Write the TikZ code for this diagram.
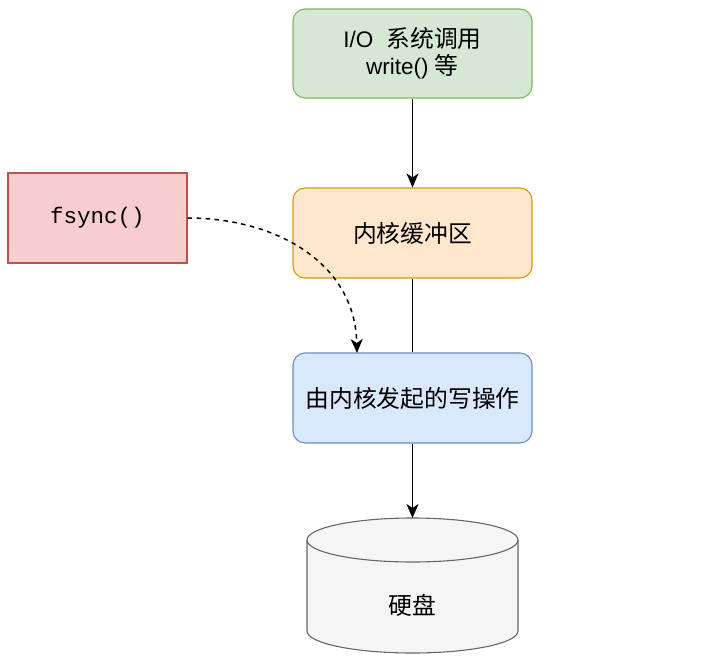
\documentclass[tikz,border=0pt]{standalone}
\usepackage{fontspec}
\setmainfont{Liberation Sans}
\newfontfamily\cjkf{Noto Sans CJK SC}
\newcommand\cjk{\cjkf\fontsize{23.8pt}{27pt}\selectfont}
\newfontfamily\monof{Liberation Mono}
\usetikzlibrary{arrows.meta}
\definecolor{gfill}{HTML}{D5E8D4}\definecolor{gline}{HTML}{82B366}
\definecolor{ofill}{HTML}{FFE6CC}\definecolor{oline}{HTML}{D79B00}
\definecolor{bfill}{HTML}{DAE8FC}\definecolor{bline}{HTML}{6C8EBF}
\definecolor{rfill}{HTML}{F8CECC}\definecolor{rline}{HTML}{B85450}
\definecolor{cfill}{HTML}{F5F5F5}\definecolor{cline}{HTML}{666666}
\begin{document}
\begin{tikzpicture}[x=1pt,y=-1pt,
  box/.style={draw, line width=1.1pt, rounded corners=12pt, minimum width=239pt, minimum height=89pt, align=center, inner sep=0pt,
    font=\fontsize{22.5pt}{27pt}\selectfont},
  sqbox/.style={draw, line width=1.1pt, minimum width=179pt, minimum height=90pt, inner sep=0pt},
  conn/.style={line width=1.5pt, -{Stealth[length=14pt,width=12pt,inset=4pt]}},
  plain/.style={line width=1.5pt}]
\useasboundingbox (0,0) rectangle (727,666);
\node[box, fill=gfill, draw=gline] (io) at (412.5,53.5) {I/O\hspace{13pt}{\cjk 系统调用}\\write() {\cjk 等}};
\node[box, fill=ofill, draw=oline, minimum height=90pt] (buf) at (412.5,233) {\cjk 内核缓冲区};
\node[box, fill=bfill, draw=bline, minimum height=90pt] (kw) at (412.5,398) {\cjk 由内核发起的写操作};
\node[sqbox, fill=rfill, draw=rline, font=\monof\fontsize{22.5pt}{27pt}\selectfont] (fs) at (97.5,218) {fsync()};
% cylinder
\path[fill=cfill] (307,540) -- (307,631) arc[start angle=180,end angle=360,x radius=105.5pt,y radius=22pt] -- (518,540) arc[start angle=0,end angle=180,x radius=105.5pt,y radius=22pt] -- cycle;
\draw[cline, line width=1.1pt] (307,540) -- (307,631) arc[start angle=180,end angle=360,x radius=105.5pt,y radius=22pt] -- (518,540);
\draw[cline, line width=1.1pt] (412.5,540) ellipse[x radius=105.5pt,y radius=22pt];
\node[font=\cjk] (hd) at (412.5,605) {硬盘};
\coordinate (hdtop) at (412.5,518);
\coordinate (fsend) at (357,353);
\draw[conn] (io.south) -- (buf.north);
\draw[plain] (buf.south) -- (kw.north);
\draw[conn] (kw.south) -- (hdtop);
\draw[conn, dash pattern=on 4.5pt off 4.5pt] (fs.east) .. controls (275,218) and (355,262) .. (fsend);
\end{tikzpicture}
\end{document}
